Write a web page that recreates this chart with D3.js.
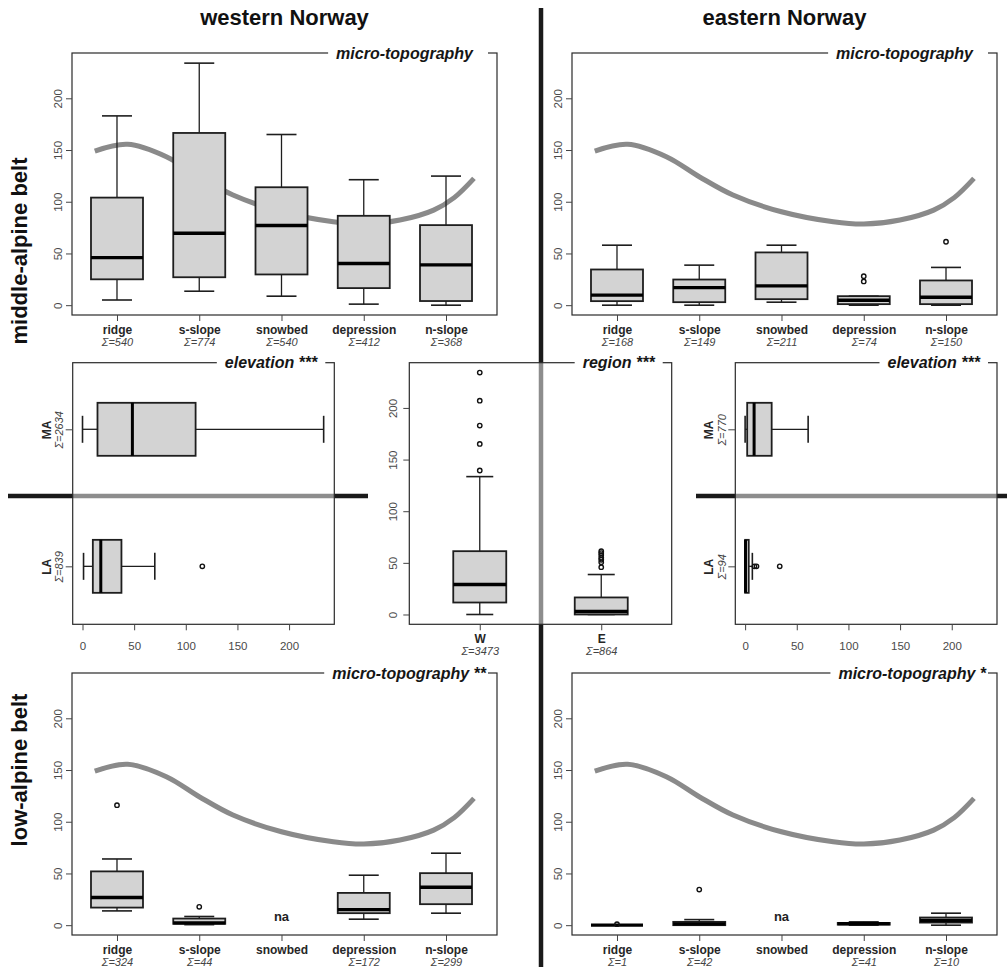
<!DOCTYPE html>
<html><head><meta charset="utf-8">
<script src="https://cdn.jsdelivr.net/npm/d3@7"></script>
<style>body{margin:0;background:#fff}svg{display:block}</style>
</head><body><svg id="c" width="1007" height="967"></svg>
<script>
// ---------------- DATA ----------------
const categories = ["ridge","s-slope","snowbed","depression","n-slope"];
const valueTicks = [0,50,100,150,200];
// five-number summaries [lower whisker, Q1, median, Q3, upper whisker]
const westMAStats = [[5,25,46,104,183],[13.5,27,69.5,166.5,234],[8.7,29.7,77,114,165],[1,16.5,40.3,86.4,121.3],[0,4,39,77.4,124.8]];
const westMAOut   = [[],[],[],[],[]];
const westMASums  = ["540","774","540","412","368"];
const eastMAStats = [[0,3.9,9.7,34.5,58],[0,2.9,17,24.8,38.7],[2.9,5.8,18.7,51,58],[0,1,4.8,8.7,8.7],[0,1,7.7,23.9,36.5]];
const eastMAOut   = [[],[],[],[23,28],[61.3]];
const eastMASums  = ["168","149","211","74","150"];
const westLAStats = [[13.8,17,26.7,52,64],[0.5,1.3,2.2,6.4,8.4],null,[5.8,11.6,15,31.2,48.3],[11.6,20.3,36.7,50.3,69.6]];
const westLAOut   = [[116],[17.7],[],[],[]];
const westLASums  = ["324","44","","172","299"];
const eastLAStats = [[0,0,0,0,0],[0,0,1.3,3.2,5.4],null,[0,0.5,1.5,2.2,3.2],[0,2.5,4.5,7.4,11.6]];
const eastLAOut   = [[1],[34.4],[],[],[]];
const eastLASums  = ["1","42","","41","10"];
// reference curve (same in all micro-topography panels)
const curveX = [0.73,1.13,1.6,2.0,2.41,3.0,3.63,4.0,4.44,4.85,5.1,5.34];
const curveY = [149,155.5,143.5,124.2,106.5,90.3,80.6,78.4,82.3,91.9,104,122.6];
// elevation panels (group 1 = LA bottom, group 2 = MA top)
const elevGroups = ["LA","MA"];
const westElevStats = [[1,10,17.7,37.7,70],[0,14.5,48.3,109.5,233.5]];
const westElevOut   = [[116],[]];
const westElevSums  = ["839","2634"];
const eastElevStats = [[0,0,0.4,3.5,7],[0,2,8.7,25.7,61]];
const eastElevOut   = [[9,11,33.5],[]];
const eastElevSums  = ["94","770"];
// region panel
const regions = ["W","E"];
const regionStats = [[0,11.6,29,61.3,133.5],[0,0,2.9,16.5,38.7]];
const regionOut   = [[139.4,165.2,182.9,207,234.2],[45.8,50.5,53,55,57.5,59.5,61.3]];
const regionSums  = ["3473","864"];

// ---------------- DRAWING ----------------
const FONT = '"Liberation Sans", Arial, Helvetica, sans-serif';
const svg = d3.select("#c").attr("font-family", FONT);
const valueDomain = [-9.5, 243.8];
const BOX_FILL = "#d3d3d3", INK = "#1e1e1e";

// separator lines
const sep = svg.append("g").attr("stroke", "#1a1a1a");
sep.append("line").attr("x1",541).attr("x2",541).attr("y1",8).attr("y2",967).attr("stroke-width",4.5);
sep.append("line").attr("x1",8).attr("x2",368).attr("y1",496).attr("y2",496).attr("stroke-width",4.5);
sep.append("line").attr("x1",696).attr("x2",1007).attr("y1",496).attr("y2",496).attr("stroke-width",4.5);

// headers
svg.append("text").attr("x",284.5).attr("y",25).attr("text-anchor","middle").attr("font-size",22).attr("font-weight","bold").attr("fill","#111").text("western Norway");
svg.append("text").attr("x",784.5).attr("y",25).attr("text-anchor","middle").attr("font-size",22).attr("font-weight","bold").attr("fill","#111").text("eastern Norway");
svg.append("text").attr("transform","translate(27,251) rotate(-90)").attr("text-anchor","middle").attr("font-size",22).attr("font-weight","bold").attr("fill","#111").text("middle-alpine belt");
svg.append("text").attr("transform","translate(27,770) rotate(-90)").attr("text-anchor","middle").attr("font-size",22).attr("font-weight","bold").attr("fill","#111").text("low-alpine belt");

function panelFrame(p) {
  const g = svg.append("g");
  g.append("rect").attr("x",p.x0).attr("y",p.y0).attr("width",p.x1-p.x0).attr("height",p.y1-p.y0)
    .attr("fill","#fff").attr("fill-opacity",0.5).attr("stroke","none");
  return g;
}
function panelBorder(g, p) {
  g.append("rect").attr("x",p.x0).attr("y",p.y0).attr("width",p.x1-p.x0).attr("height",p.y1-p.y0)
    .attr("fill","none").attr("stroke","#2a2a2a").attr("stroke-width",1.2);
}
function panelTitle(g, p, main, stars, endOff) {
  const t = g.append("text").attr("y",p.y0+5.5).attr("text-anchor","end")
    .attr("font-size",16).attr("font-weight","bold").attr("font-style","italic").attr("fill","#161616");
  t.append("tspan").text(main);
  if (stars) t.append("tspan").text(" " + stars);
  t.attr("x", p.x1 - (stars ? endOff : 24));
  const bb = t.node().getBBox();
  g.insert("rect", () => t.node()).attr("x",bb.x-8).attr("y",p.y0-3).attr("width",(p.x1-9)-(bb.x-8)).attr("height",6).attr("fill","#fff");
}

function drawBox(g, c, s, outs, val, bw, cw, horiz) {
  if (!s) return;
  const [lo,q1,med,q3,hi] = s;
  const P = (a, b) => horiz ? [val(b), a] : [a, val(b)];
  const line = (a1,b1,a2,b2,w,col) => {
    const p1 = P(a1,b1), p2 = P(a2,b2);
    g.append("line").attr("x1",p1[0]).attr("y1",p1[1]).attr("x2",p2[0]).attr("y2",p2[1])
      .attr("stroke",col||INK).attr("stroke-width",w);
  };
  line(c,q3,c,hi,1.3); line(c,q1,c,lo,1.3);
  line(c-cw/2,hi,c+cw/2,hi,1.6); line(c-cw/2,lo,c+cw/2,lo,1.6);
  if (horiz) {
    g.append("rect").attr("x",val(q1)).attr("y",c-bw/2).attr("width",val(q3)-val(q1)).attr("height",bw)
      .attr("fill",BOX_FILL).attr("stroke",INK).attr("stroke-width",1.8);
  } else {
    g.append("rect").attr("x",c-bw/2).attr("y",val(q3)).attr("width",bw).attr("height",val(q1)-val(q3))
      .attr("fill",BOX_FILL).attr("stroke",INK).attr("stroke-width",1.8);
  }
  line(c-bw/2,med,c+bw/2,med,horiz ? 3 : 3.4,"#000");
  outs.forEach(o => {
    const pt = P(c, o);
    g.append("circle").attr("cx",pt[0]).attr("cy",pt[1]).attr("r",2.2).attr("fill","none").attr("stroke","#111").attr("stroke-width",1.4);
  });
}

function valueAxisLeft(g, p, y, labOff) {
  const yg = g.append("g").attr("transform",`translate(${p.x0},0)`).call(d3.axisLeft(y).tickValues(valueTicks).tickSize(6));
  yg.attr("font-family",FONT);
  yg.select(".domain").remove();
  yg.selectAll(".tick line").attr("stroke","#444");
  yg.selectAll(".tick text").attr("x",null).attr("dy",null).attr("text-anchor","middle")
    .attr("font-size",11.5).attr("fill","#4a4a4a").attr("transform",`translate(${-labOff},0) rotate(-90)`);
}
function catAxisBottom(g, p, x, labels, sums) {
  const ag = g.append("g").attr("transform",`translate(0,${p.y1})`)
    .call(d3.axisBottom(x).tickValues(d3.range(1,labels.length+1)).tickSize(6).tickFormat((d,i)=>labels[i]));
  ag.attr("font-family",FONT);
  ag.select(".domain").remove();
  ag.selectAll(".tick line").attr("stroke","#444");
  ag.selectAll(".tick text").attr("y",19).attr("dy",null).attr("font-size",12).attr("font-weight","bold").attr("fill","#262626");
  ag.selectAll(".tick").filter((d,i)=>sums[i]).append("text").attr("y",31).attr("text-anchor","middle")
    .attr("font-size",11).attr("font-style","italic").attr("fill","#444").text((d)=>"Σ="+sums[d-1]);
}

// ---- micro-topography panels ----
const microPanels = [
  {x0:72,x1:497,y0:53,y1:315,stats:westMAStats,outs:westMAOut,sums:westMASums,stars:""},
  {x0:572,x1:997,y0:53,y1:315,stats:eastMAStats,outs:eastMAOut,sums:eastMASums,stars:""},
  {x0:72,x1:497,y0:673,y1:935,stats:westLAStats,outs:westLAOut,sums:westLASums,stars:"**"},
  {x0:572,x1:997,y0:673,y1:935,stats:eastLAStats,outs:eastLAOut,sums:eastLASums,stars:"*"}
];
microPanels.forEach(p => {
  const g = panelFrame(p);
  const x = d3.scaleLinear().domain([0.453,5.62]).range([p.x0,p.x1]);
  const y = d3.scaleLinear().domain(valueDomain).range([p.y1,p.y0]);
  g.append("path").datum(d3.zip(curveX,curveY))
    .attr("d", d3.line().x(d=>x(d[0])).y(d=>y(d[1])).curve(d3.curveCatmullRom.alpha(0.5)))
    .attr("fill","none").attr("stroke","#8a8a8a").attr("stroke-width",5);
  p.stats.forEach((s,i) => {
    if (s) drawBox(g, x(i+1), s, p.outs[i], y, 52, 30, false);
    else g.append("text").attr("x",x(i+1)).attr("y",y(0)-4.5).attr("text-anchor","middle")
      .attr("font-size",13).attr("font-weight","bold").attr("fill","#222").text("na");
  });
  panelBorder(g,p);
  valueAxisLeft(g,p,y,10);
  catAxisBottom(g,p,x,categories,p.sums);
  panelTitle(g,p,"micro-topography",p.stars,11);
});

// ---- region panel ----
{
  const p = {x0:409.3,x1:671.7,y0:362.7,y1:624.3};
  const g = panelFrame(p);
  const x = d3.scaleLinear().domain([0.42,2.58]).range([p.x0,p.x1]);
  const y = d3.scaleLinear().domain(valueDomain).range([p.y1,p.y0]);
  regionStats.forEach((s,i) => drawBox(g, x(i+1), s, regionOut[i], y, 53, 27, false));
  panelBorder(g,p);
  valueAxisLeft(g,p,y,12.5);
  catAxisBottom(g,p,x,regions,regionSums);
  panelTitle(g,p,"region","***",17);
}

// ---- elevation panels ----
const elevPanels = [
  {x0:72.7,x1:334.3,y0:362.7,y1:624.3,stats:westElevStats,outs:westElevOut,sums:westElevSums},
  {x0:735.3,x1:997,y0:362.7,y1:624.3,stats:eastElevStats,outs:eastElevOut,sums:eastElevSums}
];
elevPanels.forEach(p => {
  const g = panelFrame(p);
  const ypos = d3.scaleLinear().domain([0.577,2.486]).range([p.y1,p.y0]);
  const x = d3.scaleLinear().domain(valueDomain).range([p.x0,p.x1]);
  p.stats.forEach((s,i) => drawBox(g, ypos(i+1), s, p.outs[i], x, 53, 27, true));
  panelBorder(g,p);
  const xg = g.append("g").attr("transform",`translate(0,${p.y1})`).call(d3.axisBottom(x).tickValues(valueTicks).tickSize(6));
  xg.attr("font-family",FONT);
  xg.select(".domain").remove();
  xg.selectAll(".tick line").attr("stroke","#444");
  xg.selectAll(".tick text").attr("y",25.5).attr("dy",null).attr("font-size",11.5).attr("fill","#4a4a4a");
  const yg = g.append("g").attr("transform",`translate(${p.x0},0)`)
    .call(d3.axisLeft(ypos).tickValues([1,2]).tickSize(7).tickFormat(()=>""));
  yg.select(".domain").remove();
  yg.selectAll(".tick line").attr("stroke","#444");
  yg.selectAll(".tick text").remove();
  yg.selectAll(".tick").append("text").attr("transform","translate(-22,0) rotate(-90)").attr("text-anchor","middle")
    .attr("font-size",12).attr("font-weight","bold").attr("fill","#262626").attr("font-family",FONT).text(d=>elevGroups[d-1]);
  yg.selectAll(".tick").append("text").attr("transform","translate(-9.8,0) rotate(-90)").attr("text-anchor","middle")
    .attr("font-size",11).attr("font-style","italic").attr("fill","#444").attr("font-family",FONT).text(d=>"Σ="+p.sums[d-1]);
  panelTitle(g,p,"elevation","***",17);
});
</script></body></html>
